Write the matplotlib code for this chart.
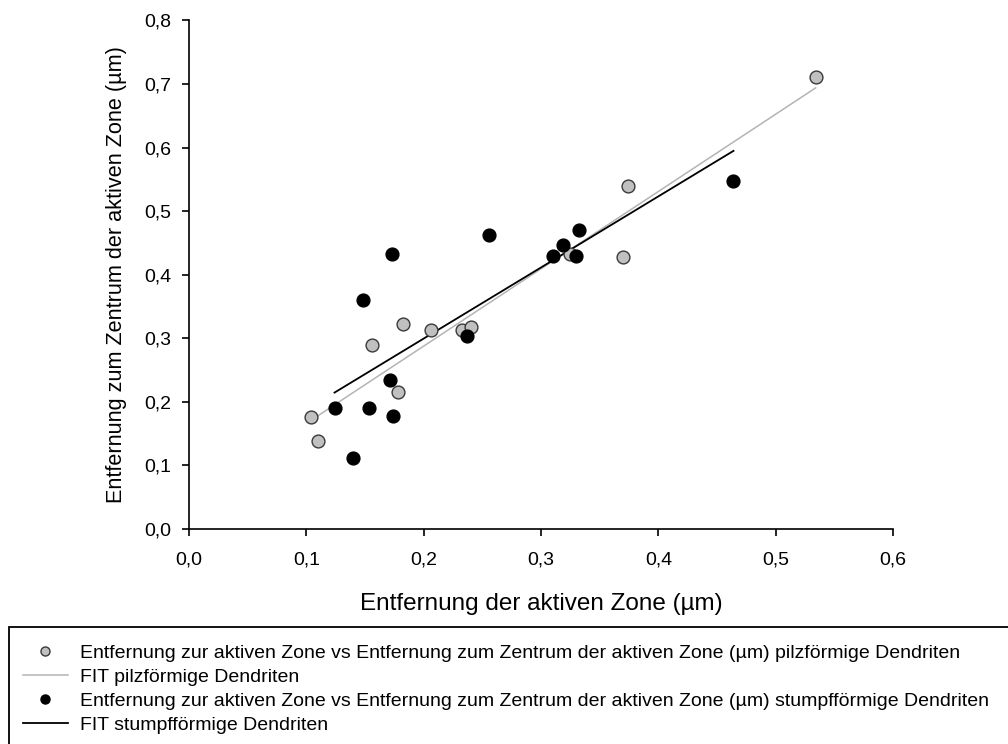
import numpy as np
import matplotlib.pyplot as plt
from matplotlib.lines import Line2D
from matplotlib.patches import Rectangle

plt.rcParams['font.family'] = ['Liberation Sans', 'DejaVu Sans']

# pilzförmige Dendriten (grey)
pilz_x = [0.104, 0.110, 0.156, 0.178, 0.182, 0.206, 0.233, 0.240, 0.325, 0.370, 0.374, 0.534]
pilz_y = [0.176, 0.139, 0.289, 0.216, 0.322, 0.313, 0.313, 0.318, 0.432, 0.428, 0.540, 0.711]

# stumpfförmige Dendriten (black)
stumpf_x = [0.124, 0.140, 0.148, 0.153, 0.171, 0.173, 0.174, 0.237, 0.256, 0.310, 0.319, 0.330, 0.332, 0.464]
stumpf_y = [0.190, 0.111, 0.361, 0.191, 0.235, 0.432, 0.177, 0.303, 0.463, 0.430, 0.446, 0.430, 0.471, 0.548]

x_ticks = [0.0, 0.1, 0.2, 0.3, 0.4, 0.5, 0.6]
y_ticks = [0.0, 0.1, 0.2, 0.3, 0.4, 0.5, 0.6, 0.7, 0.8]

labels = [
    'Entfernung zur aktiven Zone vs Entfernung zum Zentrum der aktiven Zone (µm) pilzförmige Dendriten',
    'FIT pilzförmige Dendriten',
    'Entfernung zur aktiven Zone vs Entfernung zum Zentrum der aktiven Zone (µm) stumpfförmige Dendriten',
    'FIT stumpfförmige Dendriten',
]


def fit_line(x, y):
    x = np.asarray(x)
    k, d = np.polyfit(x, np.asarray(y), 1)
    xs = np.array([x.min(), x.max()])
    return xs, k * xs + d


fig = plt.figure(figsize=(10.08, 7.44), dpi=100)
ax = fig.add_axes([0.1875, 0.289, 0.6985, 0.6835])

gx, gy = fit_line(pilz_x, pilz_y)
bx, by = fit_line(stumpf_x, stumpf_y)
ax.plot(gx, gy, color='#b4b4b4', lw=1.1, zorder=2)
ax.plot(bx, by, color='black', lw=1.3, zorder=2)

ax.scatter(pilz_x, pilz_y, s=85, c='#c0c0c0', edgecolors='#3a3a3a', linewidths=1.0, zorder=3)
ax.scatter(stumpf_x, stumpf_y, s=85, c='black', edgecolors='black', linewidths=1.0, zorder=4)

ax.set_xlim(0, 0.6)
ax.set_ylim(0, 0.8)
ax.set_xticks(x_ticks)
ax.set_yticks(y_ticks)
ax.set_xticklabels([f'{v:.1f}'.replace('.', ',') for v in x_ticks], fontsize=14)
ax.set_yticklabels([f'{v:.1f}'.replace('.', ',') for v in y_ticks], fontsize=14)
ax.spines['top'].set_visible(False)
ax.spines['right'].set_visible(False)
ax.tick_params(direction='out', length=5, width=1.2)
ax.tick_params(axis='x', pad=11)
ax.tick_params(axis='y', pad=8)
for s in ('left', 'bottom'):
    ax.spines[s].set_linewidth(1.2)

ax.set_xlabel('Entfernung der aktiven Zone (µm)', fontsize=17.5, labelpad=18)
ax.set_ylabel('Entfernung zum Zentrum der aktiven Zone (µm)', fontsize=15.6, labelpad=12)

# legend below the plot
handles = [
    Line2D([], [], ls='none', marker='o', ms=6.5, mfc='#c0c0c0', mec='#3a3a3a', mew=1.0),
    Line2D([], [], color='#b4b4b4', lw=1.1),
    Line2D([], [], ls='none', marker='o', ms=6.5, mfc='black', mec='black'),
    Line2D([], [], color='black', lw=1.3),
]
fig.legend(handles, labels, loc='upper left', bbox_to_anchor=(23 / 1008, 1 - 644 / 744),
           frameon=False, fontsize=14, handlelength=2.3, handletextpad=0.65,
           labelspacing=0.33, borderpad=0, borderaxespad=0)
fig.patches.append(Rectangle((9 / 1008, -0.01), 1.0, 1 - 627 / 744 + 0.01,
                             transform=fig.transFigure, fill=False,
                             edgecolor='black', lw=1.3))

fig.savefig('out.png', dpi=100)
